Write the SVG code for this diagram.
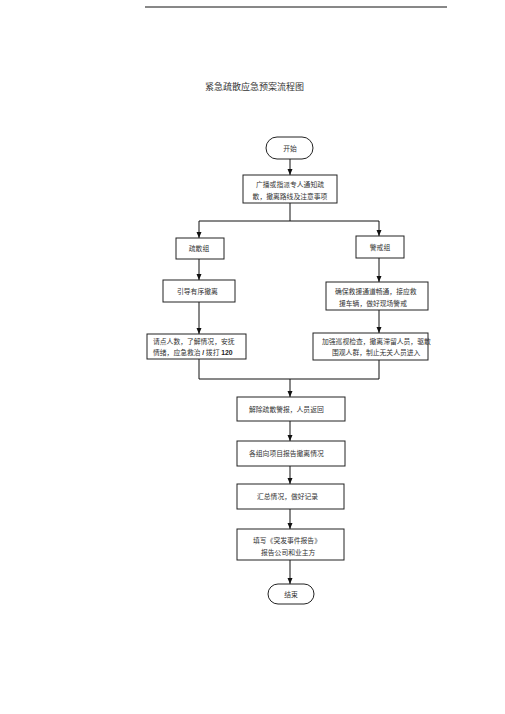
<svg xmlns="http://www.w3.org/2000/svg" width="505" height="714" viewBox="0 0 505 714">
<defs>
<style>
.bx{fill:#fff;stroke:#222;stroke-width:1}
.t{font-family:"Liberation Serif","Noto Sans CJK SC",serif;font-size:6.8px;fill:#333}
.c{text-anchor:middle}
.ln{fill:none;stroke:#111;stroke-width:1}
.b{font-family:"Liberation Sans",Arial,sans-serif;font-weight:bold;font-size:6.8px;fill:#222}
</style>
<marker id="ah" viewBox="0 0 6 6" refX="6" refY="3" markerWidth="6" markerHeight="6" markerUnits="userSpaceOnUse" orient="auto">
<path d="M0,0.5 L6,3 L0,5.5 Z" fill="#111"/>
</marker>
</defs>
<rect width="505" height="714" fill="#fff"/>
<line x1="145" y1="7" x2="447" y2="7" stroke="#111" stroke-width="1"/>
<text x="205" y="90" class="t" style="font-size:9px">紧急疏散应急预案流程图</text>

<g id="connectors">
<path class="ln" d="M290,159 V175" marker-end="url(#ah)"/>
<path class="ln" d="M290,203 V221 M199,221 H379"/>
<path class="ln" d="M199,221 V238" marker-end="url(#ah)"/>
<path class="ln" d="M379,221 V236" marker-end="url(#ah)"/>
<path class="ln" d="M199,259 V280" marker-end="url(#ah)"/>
<path class="ln" d="M199,302 V334" marker-end="url(#ah)"/>
<path class="ln" d="M379,258 V282" marker-end="url(#ah)"/>
<path class="ln" d="M379,310 V333" marker-end="url(#ah)"/>
<path class="ln" d="M199,359 V379 H379 V360"/>
<path class="ln" d="M290,379 V397" marker-end="url(#ah)"/>
<path class="ln" d="M290,421 V441" marker-end="url(#ah)"/>
<path class="ln" d="M290,466 V484" marker-end="url(#ah)"/>
<path class="ln" d="M290,509 V529" marker-end="url(#ah)"/>
<path class="ln" d="M290,560 V584" marker-end="url(#ah)"/>
</g>

<g id="start">
<rect class="bx" x="266" y="137" width="47" height="22" rx="11"/>
<text x="290" y="150.5" class="t c">开始</text>
</g>
<g id="notify">
<rect class="bx" x="243" y="175" width="94" height="28"/>
<text x="290" y="187" class="t c">广播或指派专人通知疏</text>
<text x="290" y="199" class="t c">散，撤离路线及注意事项</text>
</g>
<g id="evac-group">
<rect class="bx" x="176" y="238" width="48" height="21"/>
<text x="199" y="251" class="t c">疏散组</text>
</g>
<g id="guard-group">
<rect class="bx" x="356" y="236" width="48" height="22"/>
<text x="380" y="249.5" class="t c">警戒组</text>
</g>
<g id="guide">
<rect class="bx" x="163" y="280" width="72" height="22"/>
<text x="177" y="293.5" class="t">引导有序撤离</text>
</g>
<g id="ensure">
<rect class="bx" x="326" y="282" width="102" height="28"/>
<text x="335" y="294" class="t">确保救援通道畅通，接应救</text>
<text x="339" y="306" class="t">援车辆，做好现场警戒</text>
</g>
<g id="count">
<rect class="bx" x="147" y="334" width="99" height="25"/>
<text x="153" y="343.5" class="t">请点人数，了解情况，安抚</text>
<text x="153" y="355" class="t">情绪，应急救治 <tspan class="b">/</tspan> 拨打 <tspan class="b">120</tspan></text>
</g>
<g id="patrol">
<rect class="bx" x="313" y="333" width="115" height="27"/>
<text x="322" y="343.5" class="t">加强巡视检查，撤离滞留人员，驱散</text>
<text x="332" y="355" class="t">围观人群，制止无关人员进入</text>
</g>
<g id="release">
<rect class="bx" x="237" y="397" width="108" height="24"/>
<text x="249" y="411.5" class="t">解除疏散警报，人员返回</text>
</g>
<g id="report">
<rect class="bx" x="237" y="441" width="108" height="25"/>
<text x="249" y="456" class="t">各组向项目报告撤离情况</text>
</g>
<g id="summary">
<rect class="bx" x="237" y="484" width="107" height="25"/>
<text x="257" y="499" class="t">汇总情况，做好记录</text>
</g>
<g id="fill-report">
<rect class="bx" x="237" y="529" width="107" height="31"/>
<text x="253" y="543" class="t">填写《突发事件报告》</text>
<text x="261" y="554.5" class="t">报告公司和业主方</text>
</g>
<g id="end">
<rect class="bx" x="268" y="584" width="46" height="20" rx="10"/>
<text x="291" y="596.5" class="t c">结束</text>
</g>
</svg>
